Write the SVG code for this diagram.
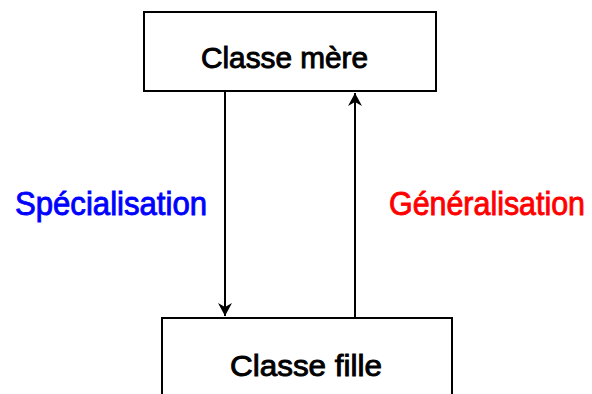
<svg xmlns="http://www.w3.org/2000/svg" width="592" height="394" viewBox="0 0 592 394">
<style>
.box{fill:#fff;stroke:#000;stroke-width:2}
.lbl{font-family:"Liberation Sans Narrow","Liberation Sans",Arial,sans-serif;font-weight:normal;stroke-width:0.9}
.edge{stroke:#000;stroke-width:2;fill:none}
</style>
<defs>
<marker id="arr" markerUnits="userSpaceOnUse" markerWidth="16" markerHeight="16" refX="13" refY="7" orient="auto">
<path d="M0,0 L13,7 L0,14 L4,7 Z" fill="#000"/>
</marker>
</defs>
<rect width="592" height="394" fill="#fff"/>
<g id="connectors">
<line class="edge" x1="225" y1="91" x2="225" y2="316" marker-end="url(#arr)"/>
<line class="edge" x1="355" y1="318" x2="355" y2="93" marker-end="url(#arr)"/>
</g>
<g id="classe-mere">
<rect class="box" x="144" y="12" width="292" height="79"/>
<text class="lbl" x="201" y="68" font-size="29" fill="#000" stroke="#000" textLength="167" lengthAdjust="spacingAndGlyphs">Classe mère</text>
</g>
<g id="classe-fille">
<rect class="box" x="162" y="318" width="290" height="90"/>
<text class="lbl" x="230" y="376" font-size="30" fill="#000" stroke="#000" textLength="152" lengthAdjust="spacingAndGlyphs">Classe fille</text>
</g>
<g id="label-specialisation">
<text class="lbl" x="15" y="215" font-size="33" fill="#0000ff" stroke="#0000ff" stroke-width="1.3" textLength="192" lengthAdjust="spacingAndGlyphs">Spécialisation</text>
</g>
<g id="label-generalisation">
<text class="lbl" x="389" y="215" font-size="33" fill="#ff0000" stroke="#ff0000" textLength="196" lengthAdjust="spacingAndGlyphs">Généralisation</text>
</g>
</svg>
